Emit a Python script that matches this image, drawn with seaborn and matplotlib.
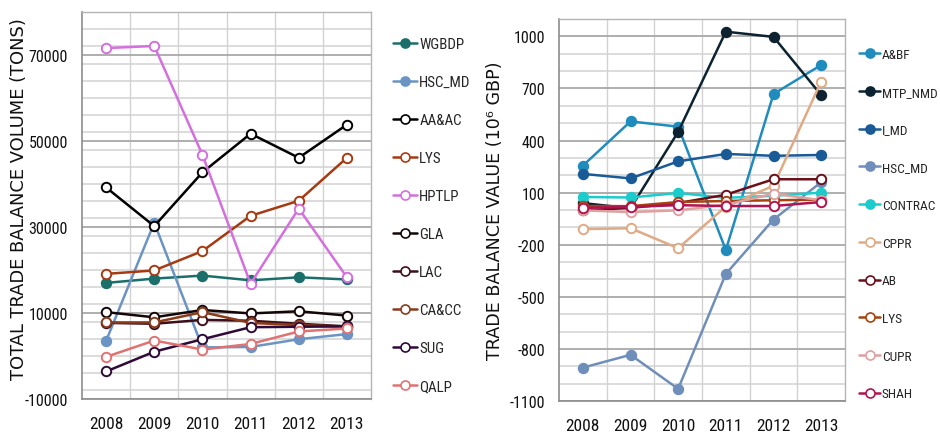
import numpy as np
import pandas as pd
import matplotlib
matplotlib.use('Agg')
import matplotlib.pyplot as plt
import seaborn as sns
from matplotlib.ticker import MultipleLocator, FixedLocator
from matplotlib.lines import Line2D
from matplotlib import font_manager as fm

years = [2008, 2009, 2010, 2011, 2012, 2013]
year_labels = ['2008', '2009', '2010', '2011', '2012', '2013']

# ---- Left panel: total trade balance volume (tons)
vol_names = ['WGBDP', 'HSC_MD', 'AA&AC', 'LYS', 'HPTLP', 'GLA', 'LAC', 'CA&CC', 'SUG', 'QALP']
vol_WGBDP = [17000, 18000, 18700, 17600, 18300, 17800]
vol_HSC_MD = [3500, 31000, 2000, 2100, 3900, 5100]
vol_AA_AC = [39200, 30200, 42700, 51700, 46100, 53800]
vol_LYS = [19100, 19900, 24400, 32600, 36100, 46100]
vol_HPTLP = [71600, 72100, 46800, 16800, 34300, 18300]
vol_GLA = [10200, 9000, 10700, 9900, 10400, 9400]
vol_LAC = [7700, 7500, 8400, 8200, 7500, 6900]
vol_CA_CC = [7800, 7800, 10200, 7700, 7200, 6800]
vol_SUG = [-3600, 1000, 3900, 6700, 6800, 6900]
vol_QALP = [-200, 3600, 1500, 2800, 5700, 6400]
vol_values = [vol_WGBDP, vol_HSC_MD, vol_AA_AC, vol_LYS, vol_HPTLP,
              vol_GLA, vol_LAC, vol_CA_CC, vol_SUG, vol_QALP]
vol_colors = ['#1b6f6b', '#6b94c4', '#000000', '#a63a12', '#d46fde',
              '#140606', '#3d0f1a', '#8b3a1a', '#2e0a36', '#e07272']
vol_filled = [True, True, False, False, False, False, False, False, False, False]

# ---- Right panel: trade balance value (10^6 GBP)
val_names = ['A&BF', 'MTP_NMD', 'I_MD', 'HSC_MD', 'CONTRAC', 'CPPR', 'AB', 'LYS', 'CUPR', 'SHAH']
val_A_BF = [255, 510, 480, -230, 668, 835]
val_MTP_NMD = [40, 10, 450, 1027, 997, 662]
val_I_MD = [208, 182, 280, 323, 312, 317]
val_HSC_MD = [-908, -834, -1030, -368, -55, 160]
val_CONTRAC = [75, 72, 98, 70, 82, 100]
val_CPPR = [-110, -105, -220, 20, 140, 740]
val_AB = [-2, 12, 40, 88, 177, 177]
val_LYS = [23, 22, 46, 52, 56, 60]
val_CUPR = [-2, -12, -2, 30, 94, 56]
val_SHAH = [12, 18, 28, 23, 23, 46]
val_values = [val_A_BF, val_MTP_NMD, val_I_MD, val_HSC_MD, val_CONTRAC,
              val_CPPR, val_AB, val_LYS, val_CUPR, val_SHAH]
val_colors = ['#1f8cbd', '#0d2230', '#1a5a96', '#6f8fba', '#1ccccc',
              '#e0aa84', '#6b0f1a', '#a8420f', '#e0a0a0', '#b01450']
val_filled = [True, True, True, True, True, False, False, False, False, False]

sns.set_style('white')
plt.rcParams['font.family'] = ['Liberation Sans', 'DejaVu Sans']
plt.rcParams['axes.unicode_minus'] = False

# find a narrow / condensed sans font if one is installed
narrow_path = None
for pref in ['Liberation Sans Narrow', 'Arial Narrow', 'Roboto Condensed', 'Open Sans Condensed']:
    for f in fm.fontManager.ttflist:
        if f.name == pref and f.style == 'normal' and f.weight in (400, 'normal', 'regular'):
            narrow_path = f.fname
            break
    if narrow_path:
        break
if narrow_path is None:
    for f in fm.fontManager.ttflist:
        if (f.stretch in ('condensed', 'semi-condensed') or 'Condensed' in f.fname) \
                and f.style == 'normal' and f.weight in (400, 'normal', 'regular') \
                and 'Serif' not in f.name and 'Mono' not in f.name:
            narrow_path = f.fname
            break

if narrow_path:
    def tfont(size):
        return fm.FontProperties(fname=narrow_path, size=size)
    ysz, xsz, lszL, lszR = 11.5, 12.5, 10.8, 9.6
else:
    def tfont(size):
        return fm.FontProperties(family='Liberation Sans', size=size)
    ysz, xsz, lszL, lszR = 9.5, 10.5, 9.5, 8.2

fig = plt.figure(figsize=(9.4, 4.35), dpi=100)
axL = fig.add_axes([82/940, 35/435, 289/940, 387/435])
axR = fig.add_axes([559/940, 33/435, 286/940, 382/435])


def draw_panel(ax, names, values, colors, filled):
    rows = []
    for n, vals in zip(names, values):
        for y, v in zip(years, vals):
            rows.append({'year': y, 'series': n, 'value': v})
    df = pd.DataFrame(rows)
    handles = []
    for n, c, f in zip(names, colors, filled):
        sub = df[df['series'] == n]
        fc = c if f else 'white'
        sns.lineplot(data=sub, x='year', y='value', ax=ax, color=c, linewidth=1.8,
                     marker='o', markersize=6.8, markerfacecolor=fc,
                     markeredgecolor=c, markeredgewidth=1.4, legend=False)
        handles.append(Line2D([0], [0], color=c, linewidth=1.8, marker='o',
                              markersize=6.5, markerfacecolor=fc,
                              markeredgecolor=c, markeredgewidth=1.2))
    return handles


def style_axes(ax, ylo, yhi, ytop, major, minor):
    ax.set_xlim(2007.5, 2013.5)
    ax.set_ylim(ylo, yhi)
    ax.xaxis.set_major_locator(FixedLocator(years))
    ax.xaxis.set_minor_locator(FixedLocator([2008.5, 2009.5, 2010.5, 2011.5, 2012.5]))
    ticks = np.arange(ylo, ytop + 1, major)
    ax.yaxis.set_major_locator(FixedLocator(ticks))
    ax.yaxis.set_minor_locator(MultipleLocator(minor))
    ax.set_xticklabels(year_labels)
    ax.set_yticklabels([str(int(t)) for t in ticks])
    for lbl in ax.get_xticklabels():
        lbl.set_fontproperties(tfont(xsz))
    for lbl in ax.get_yticklabels():
        lbl.set_fontproperties(tfont(ysz))
    ax.grid(False)
    ax.grid(which='major', axis='y', color='#a8a8a8', linewidth=1.3, zorder=0)
    ax.grid(which='minor', axis='y', color='#d2d2d2', linewidth=1.1, zorder=0)
    ax.grid(which='minor', axis='x', color='#d2d2d2', linewidth=1.0, zorder=0)
    ax.set_axisbelow(True)
    for s in ['left', 'bottom']:
        ax.spines[s].set_color('#8c8c8c')
        ax.spines[s].set_linewidth(1.2)
    for s in ['top', 'right']:
        ax.spines[s].set_color('#b4b4b4')
        ax.spines[s].set_linewidth(1.0)
    ax.tick_params(axis='x', which='both', length=0, pad=12, colors='#111111')
    ax.tick_params(axis='y', which='both', direction='out', length=4, width=1,
                   color='#a0a0a0', pad=6, labelcolor='#111111')
    ax.set_xlabel('')
    ax.set_ylabel('')


hL = draw_panel(axL, vol_names, vol_values, vol_colors, vol_filled)
style_axes(axL, -10000, 80000, 70000, 20000, 4000)
hR = draw_panel(axR, val_names, val_values, val_colors, val_filled)
style_axes(axR, -1100, 1100, 1000, 300, 100)

fig.text(19/940, 1 - 199/435, 'TOTAL TRADE BALANCE VOLUME (TONS)', rotation=90,
         ha='center', va='center', family='DejaVu Sans', fontsize=12.9, color='#111111')
fig.text(495/940, 1 - 211/435, 'TRADE BALANCE VALUE (10⁶ GBP)', rotation=90,
         ha='center', va='center', family='DejaVu Sans', fontsize=12.6, color='#111111')

fsL = lszL * 100 / 72
fsR = lszR * 100 / 72
fig.legend(hL, vol_names, loc='upper left', bbox_to_anchor=(393/940, 1 - 38/435),
           frameon=False, prop=tfont(lszL), labelspacing=(37.5 - 0.9 * fsL) / fsL,
           handlelength=1.6, handletextpad=0.15, borderpad=0, borderaxespad=0)
fig.legend(hR, val_names, loc='upper left', bbox_to_anchor=(859/940, 1 - 49/435),
           frameon=False, prop=tfont(lszR), labelspacing=(36.7 - 0.9 * fsR) / fsR,
           handlelength=1.6, handletextpad=0.12, borderpad=0, borderaxespad=0)

fig.savefig('out.png', dpi=100, facecolor='white')
